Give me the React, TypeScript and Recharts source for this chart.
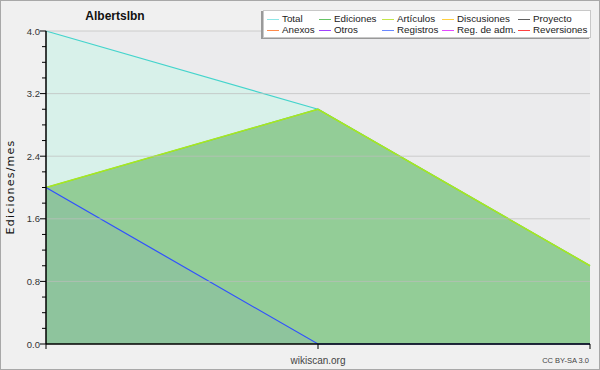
import { Area, AreaChart, CartesianGrid, ReferenceLine, XAxis, YAxis } from "recharts";

const months = ["1", "2", "3"];
const total = [4, 3, 1];
const ediciones = [2, 3, 1];
const articulos = [2, 3, 1];
const registros = [2, 0, 0];

const yTicks = [0, 0.2, 0.4, 0.6, 0.8, 1, 1.2, 1.4, 1.6, 1.8, 2, 2.2, 2.4, 2.6, 2.8, 3, 3.2, 3.4, 3.6, 3.8, 4];
const yMajor = [0, 0.8, 1.6, 2.4, 3.2, 4];

const legendItems = [
  { name: "Total", color: "#8ee6e6" },
  { name: "Ediciones", color: "#66c466" },
  { name: "Artículos", color: "#c4e64a" },
  { name: "Discusiones", color: "#ffd040" },
  { name: "Proyecto", color: "#606060" },
  { name: "Anexos", color: "#ff8a4a" },
  { name: "Otros", color: "#a040ff" },
  { name: "Registros", color: "#6a88ff" },
  { name: "Reg. de adm.", color: "#e448ff" },
  { name: "Reversiones", color: "#ff4040" },
];
const legendCols = [267, 319, 382, 442, 518];

const font = "'Liberation Sans', Arial, sans-serif";

const isMajor = (v: number) => yMajor.some((m) => Math.abs(m - v) < 1e-6);

function YTick(props: any) {
  const { x, y, payload } = props;
  const major = isMajor(payload.value);
  return (
    <g>
      <line x1={x - (major ? 6 : 4)} x2={x} y1={y} y2={y} stroke="#000" strokeWidth={1} />
      {major && (
        <text x={x - 6} y={y + 3.5} textAnchor="end" fontSize={9.5} fontFamily={font} fill="#333">
          {payload.value.toFixed(1)}
        </text>
      )}
    </g>
  );
}

export default function App() {
  const data = months.map((m, i) => ({
    month: m,
    total: total[i],
    ediciones: ediciones[i],
    articulos: articulos[i],
    registros: registros[i],
  }));

  return (
    <div style={{ position: "absolute", left: 0, top: 0, width: 600, height: 370, background: "#f0f0f0", fontFamily: font }}>
      <AreaChart width={600} height={370} data={data} margin={{ top: 31, right: 10, bottom: 0, left: 0 }}>
        <CartesianGrid fill="#ebebed" horizontal={false} vertical={false} />
        <XAxis
          dataKey="month"
          scale="point"
          padding={{ left: 0, right: 0 }}
          tickFormatter={() => ""}
          tickSize={5}
          height={26}
          axisLine={{ stroke: "#000", strokeWidth: 1.5 }}
          tickLine={{ stroke: "#000" }}
        />
        <YAxis
          type="number"
          domain={[0, 4]}
          ticks={yTicks}
          interval={0}
          width={46}
          tickSize={0}
          tickMargin={0}
          tickLine={false}
          axisLine={{ stroke: "#000", strokeWidth: 1.5 }}
          tick={<YTick />}
        />
        <Area type="linear" dataKey="total" stroke="#44d4cc" strokeWidth={1.2} fill="#d8f1ea" fillOpacity={1} isAnimationActive={false} />
        <Area type="linear" dataKey="ediciones" stroke="#66c466" strokeWidth={1.2} fill="#93cd97" fillOpacity={1} isAnimationActive={false} />
        <Area type="linear" dataKey="articulos" stroke="#a8e820" strokeWidth={1.5} fill="none" isAnimationActive={false} />
        <Area type="linear" dataKey="registros" stroke="#3050ff" strokeWidth={1.2} fill="#6a80d0" fillOpacity={0.12} isAnimationActive={false} />
        {yMajor.slice(1).map((v) => (
          <ReferenceLine key={v} y={v} stroke="#bdbdbd" strokeOpacity={0.7} strokeWidth={1} />
        ))}
      </AreaChart>

      <div style={{ position: "absolute", left: 0, top: 0, width: 600, height: 370, border: "1px solid #a8a8a8", boxSizing: "border-box", pointerEvents: "none" }} />

      <div style={{ position: "absolute", left: 60, width: 110, top: 9, textAlign: "center", fontWeight: "bold", fontSize: 12, color: "#111" }}>
        Albertslbn
      </div>

      <div
        style={{
          position: "absolute",
          left: 10,
          top: 187,
          transform: "translate(-50%, -50%) rotate(-90deg)",
          fontFamily: "'DejaVu Sans', sans-serif",
          fontSize: 11,
          letterSpacing: 1.2,
          whiteSpace: "nowrap",
          color: "#111",
        }}
      >
        Ediciones/mes
      </div>

      <div style={{ position: "absolute", left: 268, width: 100, top: 355, textAlign: "center", fontSize: 10, color: "#444" }}>
        wikiscan.org
      </div>
      <div style={{ position: "absolute", right: 11, top: 356, fontSize: 7.5, color: "#444" }}>CC BY-SA 3.0</div>

      <div
        style={{
          position: "absolute",
          left: 263,
          top: 10,
          width: 328,
          height: 28,
          background: "#fff",
          border: "1px solid #c8c8c8",
          boxShadow: "-2px 1px 0 #999",
          boxSizing: "border-box",
        }}
      />
      {legendItems.map((it, i) => {
        const col = i % 5;
        const row = Math.floor(i / 5);
        const x = legendCols[col];
        const y = 19 + row * 11;
        return (
          <div key={it.name} style={{ position: "absolute", left: x, top: y - 6, height: 12, display: "flex", alignItems: "center", whiteSpace: "nowrap" }}>
            <div style={{ width: 12, height: 1, background: it.color, marginRight: 3 }} />
            <span style={{ fontSize: 9.8, color: "#222", lineHeight: "12px" }}>{it.name}</span>
          </div>
        );
      })}
    </div>
  );
}
